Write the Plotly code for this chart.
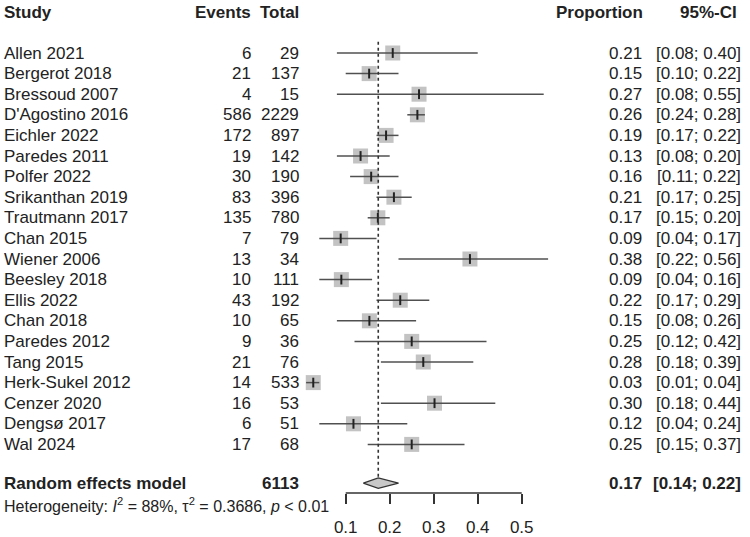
import plotly.graph_objects as go

# ---------------- data ----------------
studies = ["Allen 2021", "Bergerot 2018", "Bressoud 2007", "D'Agostino 2016", "Eichler 2022",
           "Paredes 2011", "Polfer 2022", "Srikanthan 2019", "Trautmann 2017", "Chan 2015",
           "Wiener 2006", "Beesley 2018", "Ellis 2022", "Chan 2018", "Paredes 2012",
           "Tang 2015", "Herk-Sukel 2012", "Cenzer 2020", "Dengsø 2017", "Wal 2024"]
events = [6, 21, 4, 586, 172, 19, 30, 83, 135, 7, 13, 10, 43, 10, 9, 21, 14, 16, 6, 17]
totals = [29, 137, 15, 2229, 897, 142, 190, 396, 780, 79, 34, 111, 192, 65, 36, 76, 533, 53, 51, 68]
ci_lower = [0.08, 0.10, 0.08, 0.24, 0.17, 0.08, 0.11, 0.17, 0.15, 0.04, 0.22, 0.04, 0.17, 0.08,
            0.12, 0.18, 0.01, 0.18, 0.04, 0.15]
ci_upper = [0.40, 0.22, 0.55, 0.28, 0.22, 0.20, 0.22, 0.25, 0.20, 0.17, 0.56, 0.16, 0.29, 0.26,
            0.42, 0.39, 0.04, 0.44, 0.24, 0.37]
pooled_label = "Random effects model"
pooled_est = 0.174
pooled_lower = 0.14
pooled_upper = 0.22
heterogeneity = "Heterogeneity: <i>I</i><sup>2</sup> = 88%, τ<sup>2</sup> = 0.3686, <i>p</i> &lt; 0.01"
tick_vals = [0.1, 0.2, 0.3, 0.4, 0.5]
tick_text = ["0.1", "0.2", "0.3", "0.4", "0.5"]

proportion = [e / n for e, n in zip(events, totals)]
pooled_total = sum(totals)

# ---------------- layout constants ----------------
W, H = 750, 537
FONT = "Liberation Sans, Arial, sans-serif"
FS = 17
TXT = "#222222"
rows = list(range(1, len(studies) + 1))
header_row = -0.97
pooled_row = 21.88
het_row = 22.95
axis_row = 22.36

# x mapping: 440 px per unit, 0.1 at pixel 345.7
px_per_unit = 440.0
xmin = 0.1 - 345.7 / px_per_unit
xmax = xmin + W / px_per_unit
# y mapping: row 1 at pixel 53, 20.6 px per row
row_px = 20.6
ytop = 1 - 53 / row_px
ybot = 1 + (H - 53) / row_px

def px(x):
    return x / W

fig = go.Figure()

# squares
fig.add_trace(go.Scatter(
    x=proportion, y=rows, mode="markers",
    marker=dict(symbol="square", size=15, color="#c3c3c3", line=dict(width=0)),
    hoverinfo="skip", showlegend=False))

# CI lines
cx, cy = [], []
for lo, hi, r in zip(ci_lower, ci_upper, rows):
    cx += [lo, hi, None]
    cy += [r, r, None]
fig.add_trace(go.Scatter(x=cx, y=cy, mode="lines",
                         line=dict(color="#505050", width=1.5),
                         hoverinfo="skip", showlegend=False))

# centre ticks
fig.add_trace(go.Scatter(
    x=proportion, y=rows, mode="markers",
    marker=dict(symbol="line-ns", size=7, line=dict(width=2, color="#222222")),
    hoverinfo="skip", showlegend=False))

# dotted reference line at pooled estimate
fig.add_trace(go.Scatter(x=[pooled_est, pooled_est], y=[0.45, pooled_row - 0.3], mode="lines",
                         line=dict(color="#333333", width=1.6, dash="dot"),
                         hoverinfo="skip", showlegend=False))

# diamond
dh = 0.25
fig.add_trace(go.Scatter(
    x=[pooled_lower, pooled_est, pooled_upper, pooled_est, pooled_lower],
    y=[pooled_row, pooled_row - dh, pooled_row, pooled_row + dh, pooled_row],
    mode="lines", fill="toself", fillcolor="#c8c8c8",
    line=dict(color="#333333", width=1.3), hoverinfo="skip", showlegend=False))

# axis line between first and last tick
fig.add_trace(go.Scatter(x=[tick_vals[0], tick_vals[-1]], y=[axis_row, axis_row], mode="lines",
                         line=dict(color="#333333", width=1.5),
                         hoverinfo="skip", showlegend=False))

ann = []

def add(text, x, y, anchor, bold=False, size=FS):
    ann.append(dict(text=f"<b>{text}</b>" if bold else text, x=px(x), y=y, xref="paper", yref="y",
                    xanchor=anchor, yanchor="middle", showarrow=False,
                    font=dict(family=FONT, size=size, color=TXT), borderpad=0, borderwidth=0))

# headers
add("Study", 4, header_row, "left", True)
add("Events", 251, header_row, "right", True)
add("Total", 299, header_row, "right", True)
add("Proportion", 643, header_row, "right", True)
add("95%-CI", 737, header_row, "right", True)

for s, e, n, p, lo, hi, r in zip(studies, events, totals, proportion, ci_lower, ci_upper, rows):
    add(s, 4, r, "left")
    add(str(e), 251, r, "right")
    add(str(n), 299, r, "right")
    add(f"{p:.2f}", 642, r, "right")
    add(f"[{lo:.2f}; {hi:.2f}]", 741, r, "right")

add(pooled_label, 4, pooled_row, "left", True)
add(str(pooled_total), 299, pooled_row, "right", True)
add(f"{pooled_est:.2f}", 642, pooled_row, "right", True)
add(f"[{pooled_lower:.2f}; {pooled_upper:.2f}]", 741, pooled_row, "right", True)
add(heterogeneity, 4, het_row, "left", False, 16)

fig.update_layout(
    width=W, height=H, margin=dict(l=0, r=0, t=0, b=0),
    paper_bgcolor="white", plot_bgcolor="white",
    annotations=ann, showlegend=False,
    xaxis=dict(range=[xmin, xmax], domain=[0, 1], anchor="free", position=1 - 493 / H,
               showgrid=False, zeroline=False, showline=False,
               tickmode="array", tickvals=tick_vals, ticktext=tick_text,
               ticks="outside", ticklen=10, tickwidth=1.5, tickcolor="#333333",
               ticklabelstandoff=9,
               tickfont=dict(family=FONT, size=FS, color=TXT)),
    yaxis=dict(range=[ybot, ytop], domain=[0, 1], showgrid=False, zeroline=False,
               showline=False, showticklabels=False, ticks=""),
)

fig.write_html("out.html", config={"displayModeBar": False},
               post_script="document.body.style.margin='0';document.body.style.overflow='hidden';")
